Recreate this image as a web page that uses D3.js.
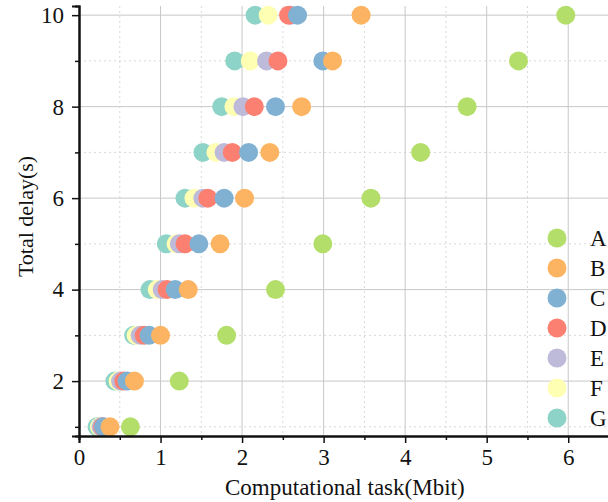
<!DOCTYPE html>
<html>
<head>
<meta charset="utf-8">
<script src="https://cdn.jsdelivr.net/npm/d3@7"></script>
<style>
    body { margin: 0; background: #fff; }
    text { font-family: 'Liberation Serif', 'Times New Roman', serif; fill: #111; }
</style>
</head>
<body>
<div id="container"></div>
<script>
'use strict';

//Data
const delays = [1, 2, 3, 4, 5, 6, 7, 8, 9, 10];
const seriesNames = ['A', 'B', 'C', 'D', 'E', 'F', 'G'];
const seriesA = [0.63, 1.23, 1.81, 2.41, 2.99, 3.58, 4.19, 4.76, 5.39, 5.97];
const seriesB = [0.38, 0.68, 1.00, 1.34, 1.73, 2.03, 2.34, 2.73, 3.11, 3.46];
const seriesC = [0.30, 0.59, 0.86, 1.18, 1.47, 1.78, 2.08, 2.41, 2.99, 2.68];
const seriesD = [0.29, 0.55, 0.80, 1.08, 1.30, 1.58, 1.88, 2.15, 2.44, 2.57];
const seriesE = [0.27, 0.51, 0.75, 1.02, 1.23, 1.52, 1.78, 2.01, 2.30, 2.60];
const seriesF = [0.25, 0.48, 0.70, 0.96, 1.19, 1.41, 1.68, 1.90, 2.10, 2.32];
const seriesG = [0.22, 0.44, 0.67, 0.87, 1.07, 1.30, 1.52, 1.75, 1.91, 2.16];
const seriesValues = [seriesA, seriesB, seriesC, seriesD, seriesE, seriesF, seriesG];
const colors = ['#b3de69', '#fdb462', '#80b1d3', '#fb8072', '#bebada', '#ffffb3', '#8dd3c7'];
const xTicks = [0, 1, 2, 3, 4, 5, 6];
const yTicks = [2, 4, 6, 8, 10];

//Sizing
const VIZ = {
    WIDTH: 608,
    HEIGHT: 502,
    MARGIN: { LEFT: 79, TOP: 6, RIGHT: 0, BOTTOM: 66 }
};
const width = VIZ.WIDTH - VIZ.MARGIN.LEFT - VIZ.MARGIN.RIGHT;
const height = VIZ.HEIGHT - VIZ.MARGIN.TOP - VIZ.MARGIN.BOTTOM;
const RADIUS = 9.5;

const svg = d3.select('#container')
    .append('svg')
    .attr('width', VIZ.WIDTH)
    .attr('height', VIZ.HEIGHT);
const vis = svg.append('g')
    .attr('transform', `translate(${VIZ.MARGIN.LEFT} ${VIZ.MARGIN.TOP})`);

//Scales
const x = d3.scaleLinear().domain([0, 6.5]).range([0, width + 1]);
const y = d3.scaleLinear().domain([0.8, 10.2]).range([height, 0]);
const color = d3.scaleOrdinal().domain(seriesNames).range(colors);

//Grid
const xMinor = d3.range(0.5, 6.5, 1);
const yMinor = d3.range(1, 10.2, 2);
vis.append('g').selectAll('line').data(xMinor).join('line')
    .attr('x1', d => x(d)).attr('x2', d => x(d)).attr('y1', 0).attr('y2', height)
    .attr('stroke', '#d8d8d8').attr('stroke-dasharray', '2,3');
vis.append('g').selectAll('line').data(yMinor).join('line')
    .attr('x1', 0).attr('x2', width).attr('y1', d => y(d)).attr('y2', d => y(d))
    .attr('stroke', '#d8d8d8').attr('stroke-dasharray', '2,3');
vis.append('g').selectAll('line').data(xTicks.slice(1)).join('line')
    .attr('x1', d => x(d)).attr('x2', d => x(d)).attr('y1', 0).attr('y2', height)
    .attr('stroke', '#c8c8c8');
vis.append('g').selectAll('line').data(yTicks).join('line')
    .attr('x1', 0).attr('x2', width).attr('y1', d => y(d)).attr('y2', d => y(d))
    .attr('stroke', '#c8c8c8');

//Points, G drawn first and A last
const points = seriesNames.map((name, i) => seriesValues[i].map((v, j) => ({ name, x: v, y: delays[j] })));
vis.append('g').selectAll('g').data(points.slice().reverse()).join('g')
    .selectAll('circle').data(d => d).join('circle')
    .attr('cx', d => x(d.x))
    .attr('cy', d => y(d.y))
    .attr('r', RADIUS)
    .attr('fill', d => color(d.name));

//Axes
drawAxis(d3.axisBottom(x).tickValues(xMinor).tickSize(4).tickFormat(''), 0, height);
drawAxis(d3.axisBottom(x).tickValues(xTicks).tickSize(7).tickPadding(6).tickFormat(d3.format('d')), 0, height);
drawAxis(d3.axisLeft(y).tickValues(yMinor).tickSize(4).tickFormat(''), 0, 0);
drawAxis(d3.axisLeft(y).tickValues(yTicks).tickSize(7).tickPadding(8).tickFormat(d3.format('d')), 0, 0);

//Axis titles
svg.append('text')
    .attr('x', VIZ.MARGIN.LEFT + x(3.26))
    .attr('y', 495)
    .attr('text-anchor', 'middle')
    .attr('font-size', 23)
    .text('Computational task(Mbit)');
svg.append('text')
    .attr('transform', `translate(33 ${VIZ.MARGIN.TOP + y(5.6)}) rotate(-90)`)
    .attr('text-anchor', 'middle')
    .attr('font-size', 22)
    .text('Total delay(s)');

//Legend
const legend = svg.append('g').attr('transform', 'translate(557 238)');
const items = legend.selectAll('g').data(seriesNames).join('g')
    .attr('transform', (d, i) => `translate(0 ${i * 30})`);
items.append('circle').attr('r', RADIUS).attr('fill', d => color(d));
items.append('text')
    .attr('x', 33)
    .attr('dy', '0.35em')
    .attr('font-size', 23)
    .text(d => d);

function drawAxis(axis, left, top) {
    const g = vis.append('g')
        .attr('transform', `translate(${left}, ${top})`)
        .call(axis);
    g.select('.domain').attr('stroke', '#111').attr('stroke-width', 2);
    g.selectAll('.tick line').attr('stroke', '#111').attr('stroke-width', 1.5);
    g.selectAll('.tick text')
        .attr('font-family', "'Liberation Serif', serif")
        .attr('font-size', 23)
        .attr('fill', '#111');
    return g;
}
</script>
</body>
</html>
